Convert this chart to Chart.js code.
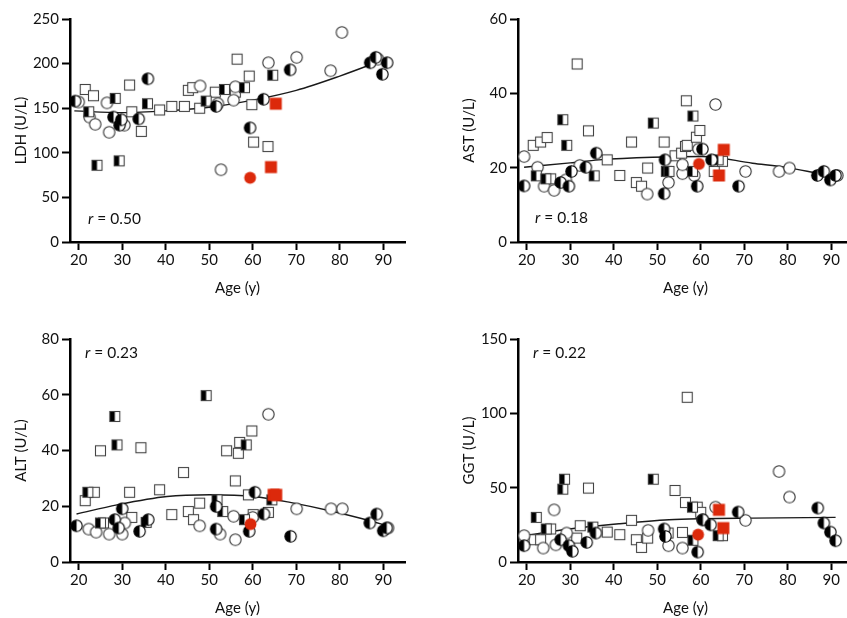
<!DOCTYPE html>
<html>
<head>
<meta charset="utf-8">
<script src="https://cdn.jsdelivr.net/npm/chart.js@4.4.1/dist/chart.umd.min.js"></script>
<style>
  html, body { margin: 0; padding: 0; background: #fff; overflow: hidden; width: 847px; height: 618px; }
  canvas { position: absolute; }
  .rlab { position: absolute; font-family: Lato, "Open Sans", sans-serif; font-size: 15.5px; line-height: 18px; color: #111; white-space: nowrap; }
</style>
</head>
<body>
<canvas id="c1" width="420" height="305" style="left:0px;top:0px"></canvas>
<canvas id="c2" width="420" height="305" style="left:448px;top:0px"></canvas>
<canvas id="c3" width="420" height="305" style="left:0px;top:320px"></canvas>
<canvas id="c4" width="420" height="305" style="left:448px;top:320px"></canvas>
<div class="rlab" style="left:88px;top:209px"><i>r</i> = 0.50</div>
<div class="rlab" style="left:535px;top:208px"><i>r</i> = 0.18</div>
<div class="rlab" style="left:85px;top:343px"><i>r</i> = 0.23</div>
<div class="rlab" style="left:533px;top:343px"><i>r</i> = 0.22</div>
<script>
// ---------- Data (age in years, value in U/L) ----------
const ageTicks = [20, 30, 40, 50, 60, 70, 80, 90];

// LDH
const ldhTicks = [0, 50, 100, 150, 200, 250];
const ldhOpenCircle = [[20,157],[22.5,140],[23.8,132],[26.5,156],[27,123],[30.5,131],[47.9,175],[52,155],[55.6,159],[56,174],[52.7,81],[63.6,201],[70.1,207],[77.9,192],[80.5,235],[88.8,205]];
const ldhOpenSquare = [[21.5,171],[23.4,164],[31.7,176],[32.2,146],[34.4,124],[38.6,148],[41.4,152],[44.3,152],[47.8,150],[45.2,170],[46.2,173],[51.4,168],[56.4,205],[56,168],[59.2,186],[59.8,154],[60.2,112],[63.5,107]];
const ldhHalfCircle = [[19.2,158],[35.9,183],[28,140],[29.4,131],[29.8,137],[33.8,138],[51.6,152],[62.5,160],[68.6,193],[87,201],[88.3,207],[90.9,201],[89.8,188],[59.4,128]];
const ldhHalfSquare = [[22.3,146],[28.4,161],[35.8,155],[49.3,158],[53.5,171],[58.1,173],[64.6,187],[24.2,86],[29.3,91]];
const ldhRedCircle = [[59.4,72]];
const ldhRedSquare = [[65.3,155],[64.2,84]];
const ldhFit = [[19,147],[30,145],[40,147],[50,151],[60,159],[70,170],[80,186],[91,206]];

// AST
const astTicks = [0, 20, 40, 60];
const astOpenCircle = [[19.4,23],[22.5,20.1],[24,15],[26.3,13.9],[29,16.7],[32.2,20.6],[47.7,12.9],[52.6,16],[55.8,18.4],[55.8,20.8],[58.5,17.9],[59.5,25],[63.4,37],[70.3,19],[78,19],[80.4,19.9],[91.4,17.9]];
const astOpenSquare = [[21.5,26],[23.2,26.9],[24.7,28.1],[25.5,17],[31.6,47.9],[34.2,29.9],[38.5,22.1],[41.4,17.9],[44.1,26.9],[45.2,16],[46.4,15],[47.8,19.9],[51.6,26.9],[54.1,23.2],[55.6,23.9],[56.5,25.7],[56.7,38],[56.9,26],[59,28.2],[59.8,30],[63.1,19],[65,21.7]];
const astHalfCircle = [[19.4,15.1],[27.8,16],[29.7,15],[30.3,19],[33.6,20.1],[36,23.9],[51.8,22.1],[51.6,13],[59.2,15],[60.4,25],[62.5,22.1],[68.7,15],[86.8,17.9],[88.3,19],[89.8,16.7],[91,17.9]];
const astHalfSquare = [[22.2,17.8],[24.4,17],[28.3,32.9],[29.2,26],[35.5,17.8],[49.1,32],[52.1,19],[52.7,19],[58.2,33.9],[58.1,19],[64,22.1]];
const astRedCircle = [[59.6,21]];
const astRedSquare = [[64.2,17.9],[65.3,24.8]];
const astFit = [[19.4,20.1],[30,21.3],[36.6,22.1],[48.9,22.8],[60.4,23],[71.9,21.2],[80,20],[87.2,18.4],[91,17.6]];

// ALT
const altTicks = [0, 20, 40, 60, 80];
const altOpenCircle = [[22.3,11.8],[24,10.7],[27,10],[30.6,14],[30,10],[47.8,13],[52.5,10],[55.6,16.4],[56,8],[60,16],[63.6,53],[70.1,19.1],[78,19.1],[80.6,19.1],[91.1,12.2]];
const altOpenSquare = [[21.5,22],[23.6,25],[25.7,14],[25,39.9],[32.2,16],[31.7,25],[34.3,41],[38.6,25.9],[41.4,17],[44.1,32.1],[45.2,18.1],[46.4,15.2],[47.8,21.1],[54,39.9],[56,29.1],[56.7,39],[57,42.9],[59.8,47],[59,24.1],[60.1,17],[63.6,17.8]];
const altHalfCircle = [[19.5,13],[28.3,15.2],[29.2,12.2],[30,19.1],[34,11],[36,15.2],[51.6,11.8],[51.6,19.9],[59.2,11],[60.5,25],[62.6,17.2],[68.7,9.2],[86.9,14],[88.5,17.2],[90,11.2],[90.8,12.2]];
const altHalfSquare = [[22.1,25],[25,14],[28.3,52.2],[28.8,42],[35.5,14.2],[49.3,59.7],[51.8,22.3],[53.1,18.1],[58.5,42],[58.1,15.2],[64.4,22.3]];
const altRedCircle = [[59.5,13.6]];
const altRedSquare = [[64.8,24.1],[65.4,24.1]];
const altFit = [[19.5,17.2],[28.8,20.5],[40.3,23.5],[50.2,24.1],[60.2,23.5],[68.6,21.4],[78.5,18.1],[90,13.4],[91.1,12.8]];

// GGT
const ggtTicks = [0, 50, 100, 150];
const ggtOpenCircle = [[19.4,17.7],[23.8,9.4],[26.3,35.1],[26.7,11.6],[29.2,19.5],[47.9,21.3],[52.6,11],[55.8,9.4],[60.4,28.4],[63.4,36.9],[70.3,28],[78,60.9],[80.4,43.7]];
const ggtOpenSquare = [[21.7,15],[23.2,15],[25.5,22.2],[31.5,16.1],[32.3,24.4],[34.2,49.7],[38.5,20.1],[41.4,18.4],[44.1,28],[45.2,15],[46.4,9.8],[47.8,16.1],[54.1,48.1],[55.8,19.9],[56.5,40],[56.9,110.8],[59.2,36.9],[60,33.4],[65,17.7]];
const ggtHalfCircle = [[19.4,11],[27.8,15],[29.7,11],[30.5,7.2],[33.8,13.2],[35.9,19.5],[51.6,22.2],[51.9,17.2],[59.3,6.7],[60.5,28.4],[62.3,25],[68.6,33.6],[86.9,36.3],[88.3,26.2],[89.8,20.1],[91,14.3]];
const ggtHalfSquare = [[22.2,30],[24.5,22.2],[28.3,49],[28.7,55.7],[35.2,23.5],[49.1,55.7],[52.5,19.5],[58.1,36.9],[58.2,14.6],[64,17.7]];
const ggtRedCircle = [[59.4,18.4]];
const ggtRedSquare = [[64.2,35.1],[65.2,22.8]];
const ggtFit = [[19.4,17.7],[29.7,22.2],[41.2,25.7],[52.7,28.4],[60.4,29.1],[71.8,29.5],[91,30]];

// ---------- Markers ----------
const RED = '#dc290b';
function marker(kind) {
  const s = 15, m = 7.5;
  const c = document.createElement('canvas');
  c.width = s; c.height = s;
  const g = c.getContext('2d');
  if (kind === 'openCircle' || kind === 'halfCircle') {
    g.beginPath(); g.arc(m, m, 5.7, 0, Math.PI * 2); g.fillStyle = '#fff'; g.fill();
    if (kind === 'halfCircle') {
      g.beginPath(); g.arc(m, m, 5.7, Math.PI / 2, Math.PI * 1.5); g.closePath(); g.fillStyle = '#000'; g.fill();
    }
    g.beginPath(); g.arc(m, m, 5.7, 0, Math.PI * 2);
    g.lineWidth = 1.1; g.strokeStyle = kind === 'halfCircle' ? '#000' : '#333'; g.stroke();
  } else if (kind === 'openSquare' || kind === 'halfSquare') {
    g.fillStyle = '#fff'; g.fillRect(2, 2, 11, 11);
    if (kind === 'halfSquare') { g.fillStyle = '#000'; g.fillRect(2, 2, 5.5, 11); }
    g.lineWidth = 1.1; g.strokeStyle = '#444'; g.strokeRect(2.5, 2.5, 10, 10);
  } else if (kind === 'redCircle') {
    g.beginPath(); g.arc(m, m, 5.9, 0, Math.PI * 2); g.fillStyle = RED; g.fill();
  } else if (kind === 'redSquare') {
    g.fillStyle = RED; g.fillRect(1.5, 1.5, 12, 12);
  }
  return c;
}
const MK = {};
['openCircle','openSquare','halfCircle','halfSquare','redCircle','redSquare'].forEach(k => MK[k] = marker(k));

const toXY = arr => arr.map(p => ({ x: p[0], y: p[1] }));
const FONT = 'Lato, "Open Sans", sans-serif';

function makeChart(id, title, yTicks, groups, fit) {
  const datasets = [
    { label: 'Red circle', data: toXY(groups.redCircle), pointStyle: MK.redCircle },
    { label: 'Red square', data: toXY(groups.redSquare), pointStyle: MK.redSquare },
    { label: 'Half circle', data: toXY(groups.halfCircle), pointStyle: MK.halfCircle },
    { label: 'Half square', data: toXY(groups.halfSquare), pointStyle: MK.halfSquare },
    { label: 'Open circle', data: toXY(groups.openCircle), pointStyle: MK.openCircle },
    { label: 'Open square', data: toXY(groups.openSquare), pointStyle: MK.openSquare },
  ].map(d => Object.assign(d, { type: 'scatter', pointRadius: 6, showLine: false, order: 0 }));
  datasets.push({
    type: 'line', label: 'Fit', data: toXY(fit), borderColor: '#1a1a1a', borderWidth: 1.4,
    pointRadius: 0, cubicInterpolationMode: 'monotone', fill: false, order: 1
  });
  const yMax = yTicks[yTicks.length - 1];
  return new Chart(document.getElementById(id), {
    type: 'scatter',
    data: { datasets },
    options: {
      responsive: false, animation: false, events: [],
      layout: { padding: { left: 0, right: 15, top: 19, bottom: 0 } },
      plugins: { legend: { display: false }, tooltip: { enabled: false } },
      scales: {
        x: {
          type: 'linear', min: 18, max: 95,
          afterBuildTicks: s => { s.ticks = ageTicks.map(v => ({ value: v })); },
          afterFit: s => { s.height = 63; },
          ticks: { color: '#111', font: { family: FONT, size: 15 }, padding: 1, maxRotation: 0, autoSkip: false },
          grid: { drawOnChartArea: false, drawTicks: true, tickLength: 8, tickWidth: 2, tickColor: '#000' },
          border: { color: '#000', width: 2.5 },
          title: { display: true, text: 'Age (y)', color: '#111', font: { family: FONT, size: 15 }, padding: { top: 0, bottom: 8 } }
        },
        y: {
          type: 'linear', min: 0, max: yMax,
          afterBuildTicks: s => { s.ticks = yTicks.map(v => ({ value: v })); },
          afterFit: s => { s.width = 70; },
          ticks: { color: '#111', font: { family: FONT, size: 15 }, padding: 3, autoSkip: false },
          grid: { drawOnChartArea: false, drawTicks: true, tickLength: 8, tickWidth: 2, tickColor: '#000' },
          border: { color: '#000', width: 2.5 },
          title: { display: true, text: title, color: '#111', font: { family: FONT, size: 15 }, padding: { top: 12, bottom: 0 } }
        }
      }
    }
  });
}

makeChart('c1', 'LDH (U/L)', ldhTicks, {
  openCircle: ldhOpenCircle, openSquare: ldhOpenSquare, halfCircle: ldhHalfCircle,
  halfSquare: ldhHalfSquare, redCircle: ldhRedCircle, redSquare: ldhRedSquare
}, ldhFit);
makeChart('c2', 'AST (U/L)', astTicks, {
  openCircle: astOpenCircle, openSquare: astOpenSquare, halfCircle: astHalfCircle,
  halfSquare: astHalfSquare, redCircle: astRedCircle, redSquare: astRedSquare
}, astFit);
makeChart('c3', 'ALT (U/L)', altTicks, {
  openCircle: altOpenCircle, openSquare: altOpenSquare, halfCircle: altHalfCircle,
  halfSquare: altHalfSquare, redCircle: altRedCircle, redSquare: altRedSquare
}, altFit);
makeChart('c4', 'GGT (U/L)', ggtTicks, {
  openCircle: ggtOpenCircle, openSquare: ggtOpenSquare, halfCircle: ggtHalfCircle,
  halfSquare: ggtHalfSquare, redCircle: ggtRedCircle, redSquare: ggtRedSquare
}, ggtFit);
</script>
</body>
</html>
